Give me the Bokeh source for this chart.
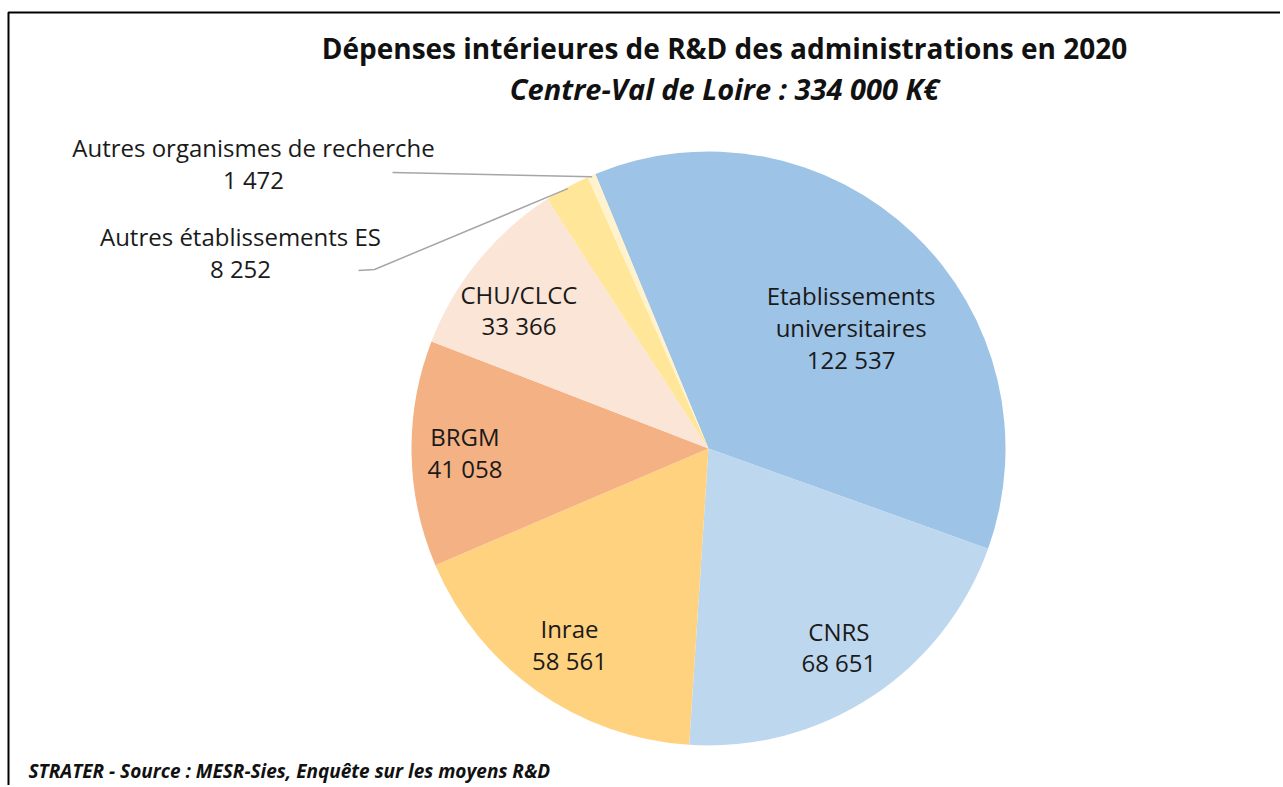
import math
import numpy as np
from bokeh.plotting import figure
from bokeh.models import Range1d, ColumnDataSource
from bokeh.core.properties import value
from bokeh.embed import file_html
from bokeh.resources import INLINE

# ---- data ----
categories = ["Etablissements\nuniversitaires", "CNRS", "Inrae", "BRGM", "CHU/CLCC",
              "Autres établissements ES", "Autres organismes de recherche"]
values = [122537, 68651, 58561, 41058, 33366, 8252, 1472]
value_labels = ["122 537", "68 651", "58 561", "41 058", "33 366", "8 252", "1 472"]
colors = ["#9DC3E6", "#BDD7EE", "#FFD280", "#F4B183", "#FBE5D6", "#FFE699", "#FFF2CC"]

title = "Dépenses intérieures de R&D des administrations en 2020"
subtitle = "Centre-Val de Loire : 334 000 K€"
footer = "STRATER - Source : MESR-Sies, Enquête sur les moyens R&D"

# ---- layout ----
W, H = 1280, 785
def X(sx): return sx
def Y(sy): return H - sy
CX, CY, R = X(708), Y(448), 297
first_angle = -22.4  # degrees clockwise from 12 o'clock
FONT = "Open Sans"
FS = "24px"
LH = 0.96

p = figure(width=W, height=H, x_range=Range1d(0, W), y_range=Range1d(0, H),
           output_backend="svg", toolbar_location=None, min_border=0)
p.axis.visible = False
p.grid.visible = False
p.outline_line_color = None
p.background_fill_color = "white"

total = sum(values)
fr = np.array(values) / total
cw_end = first_angle + np.cumsum(fr) * 360
cw_start = cw_end - fr * 360
src = ColumnDataSource(dict(
    start=np.radians(90 - cw_start), end=np.radians(90 - cw_end), color=colors))
p.wedge(x=CX, y=CY, radius=R, start_angle="start", end_angle="end",
        direction="clock", fill_color="color",
        line_color=None, source=src)

# inner labels (angle offset in degrees, radius fraction)
ang_off = [6, 0, 0, 0, -3]
rad_frac = [0.63, 0.80, 0.81, 0.82, 0.79]
lx, ly, lt = [], [], []
for i in range(5):
    mid = math.radians((cw_start[i] + cw_end[i]) / 2 + ang_off[i])
    lx.append(CX + R * rad_frac[i] * math.sin(mid))
    ly.append(CY + R * rad_frac[i] * math.cos(mid))
    lt.append(categories[i] + "\n" + value_labels[i])
p.text(x=lx, y=ly, text=lt, text_align="center", text_baseline="middle",
       text_font=value(FONT), text_font_size=FS, text_color="#1a1a1a",
       text_line_height=LH)

# outside labels
ox = [X(253), X(240)]
oy = [Y(163), Y(252)]
p.text(x=ox, y=oy, text=[categories[6] + "\n" + value_labels[6],
                         categories[5] + "\n" + value_labels[5]],
       text_align="center", text_baseline="middle",
       text_font=value(FONT), text_font_size=FS, text_color="#1a1a1a",
       text_line_height=LH)

# leader lines
def edge(i, k=0.995):
    mid = math.radians((cw_start[i] + cw_end[i]) / 2)
    return CX + R * k * math.sin(mid), CY + R * k * math.cos(mid)
ex6, ey6 = edge(6)
p.line([X(392), ex6], [Y(172), ey6], line_color="#A6A6A6", line_width=1.5)
ex5, ey5 = edge(5)
p.line([X(358), X(374), ex5], [Y(270), Y(269), ey5], line_color="#A6A6A6", line_width=1.5)

# titles
p.text(x=[X(724)], y=[Y(47)], text=[title], text_align="center", text_baseline="middle",
       text_font=value(FONT), text_font_size="28px", text_font_style="bold", text_color="#111111")
p.text(x=[X(724)], y=[Y(88)], text=[subtitle], text_align="center", text_baseline="middle",
       text_font=value(FONT), text_font_size="29px", text_font_style="bold italic", text_color="#111111")
p.text(x=[X(28)], y=[Y(770)], text=[footer], text_align="left", text_baseline="middle",
       text_font=value(FONT), text_font_size="19px", text_font_style="bold italic", text_color="#111111")

# frame (top and left)
p.line([X(8), X(8), W], [0, Y(12), Y(12)], line_color="#000000", line_width=2)

open("out.html", "w").write(file_html(p, INLINE))
